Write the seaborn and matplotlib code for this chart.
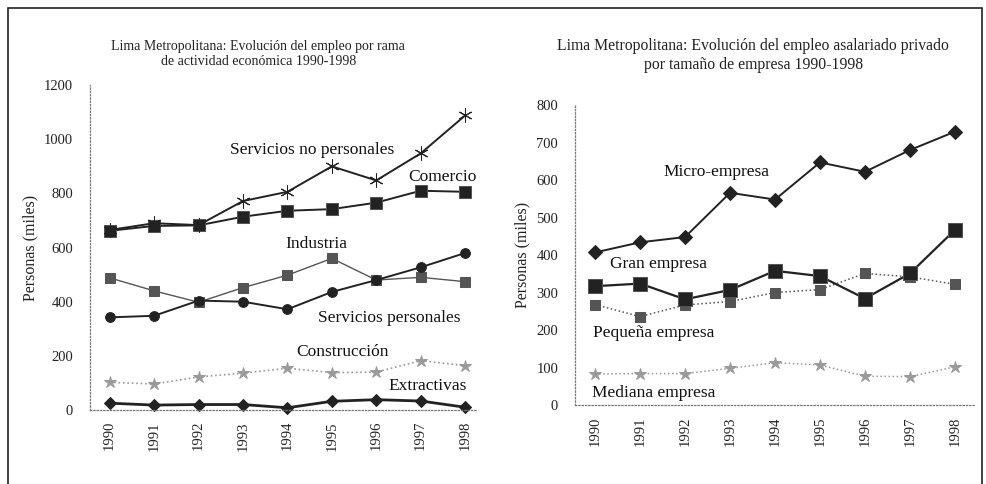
import matplotlib
matplotlib.use('Agg')
import matplotlib.pyplot as plt
import matplotlib.patches as mpatches
import seaborn as sns
import pandas as pd

# Data (thousands of persons)
years = [1990, 1991, 1992, 1993, 1994, 1995, 1996, 1997, 1998]

serv_no_pers = [665, 690, 683, 772, 806, 900, 848, 948, 1088]
comercio = [662, 680, 682, 714, 736, 742, 766, 810, 806]
industria = [342, 348, 404, 400, 372, 436, 480, 527, 580]
serv_pers = [488, 440, 398, 452, 498, 560, 480, 490, 474]
construccion = [102, 96, 122, 136, 154, 138, 140, 182, 164]
extractivas = [25, 18, 20, 20, 8, 32, 38, 33, 10]

micro = [407, 434, 448, 566, 548, 647, 622, 680, 729]
gran = [317, 324, 282, 307, 358, 344, 284, 351, 467]
pequena = [268, 236, 267, 276, 300, 308, 351, 342, 322]
mediana = [83, 84, 84, 98, 113, 107, 77, 76, 102]

left_ticks = [0, 200, 400, 600, 800, 1000, 1200]
right_ticks = [0, 100, 200, 300, 400, 500, 600, 700, 800]

sns.set_theme(style="white")
plt.rcParams['font.family'] = ['Liberation Serif', 'DejaVu Serif']

fig = plt.figure(figsize=(9.86, 4.84), dpi=100)

# scanned page frame
fig.patches.append(mpatches.Rectangle((0.008, -0.02), 0.988, 1.003, transform=fig.transFigure,
                                      fill=False, edgecolor='#222222', linewidth=1.2))

ax1 = fig.add_axes([0.091, 0.153, 0.392, 0.671])
ax2 = fig.add_axes([0.583, 0.163, 0.406, 0.62])

dark = '#222222'
mid = '#555555'
light = '#9a9a9a'
asterisk = (6, 2, 0)


def draw(ax, vals, marker, color, ls, ms, lw=1.3, mec=None):
    df = pd.DataFrame({'year': years, 'value': vals})
    sns.lineplot(data=df, x='year', y='value', ax=ax, color=color, linestyle=ls,
                 linewidth=lw, marker=marker, markersize=ms,
                 markerfacecolor=color, markeredgecolor=mec or color, clip_on=False)


# Left panel: by branch of activity
draw(ax1, serv_pers, 's', mid, '-', 7, lw=1.0)
draw(ax1, construccion, '*', light, ':', 9, lw=1.2)
draw(ax1, extractivas, 'D', dark, '-', 6, lw=2.0)
draw(ax1, industria, 'o', dark, '-', 7, lw=1.4)
draw(ax1, comercio, 's', dark, '-', 9, lw=1.4, mec='#555555')
draw(ax1, serv_no_pers, asterisk, dark, '-', 10, lw=1.4)

# Right panel: by firm size
draw(ax2, pequena, 's', mid, ':', 7, lw=1.1)
draw(ax2, mediana, '*', light, ':', 9, lw=1.1)
draw(ax2, micro, 'D', dark, '-', 7, lw=1.4)
draw(ax2, gran, 's', dark, '-', 10, lw=1.6, mec='#555555')

label_kw = dict(fontsize=12.5, color='#111111', ha='center', va='center')
ax1.text(1994.55, 960, 'Servicios no personales', **label_kw)
ax1.text(1997.5, 862, 'Comercio', **label_kw)
ax1.text(1994.65, 612, 'Industria', **label_kw)
ax1.text(1996.3, 338, 'Servicios personales', **label_kw)
ax1.text(1995.25, 215, 'Construcción', **label_kw)
ax1.text(1997.15, 88, 'Extractivas', **label_kw)

ax2.text(1992.7, 622, 'Micro-empresa', **label_kw)
ax2.text(1991.4, 375, 'Gran empresa', **label_kw)
ax2.text(1991.3, 192, 'Pequeña empresa', **label_kw)
ax2.text(1991.3, 32, 'Mediana empresa', **label_kw)

for ax, ticks, xmax in [(ax1, left_ticks, 1998.25), (ax2, right_ticks, 1998.45)]:
    ax.set_xlim(1989.55, xmax)
    ax.set_ylim(0, ticks[-1])
    ax.set_yticks(ticks)
    ax.set_yticklabels([str(t) for t in ticks], fontsize=10.5, color='#222222')
    ax.set_xticks(years)
    ax.set_xticklabels([str(y) for y in years], rotation=90, fontsize=10.5, color='#222222')
    ax.set_xlabel('')
    ax.set_ylabel('Personas (miles)', fontsize=11.5, color='#222222', labelpad=4)
    for side in ['top', 'right']:
        ax.spines[side].set_visible(False)
    for side in ['left', 'bottom']:
        ax.spines[side].set_linestyle(':')
        ax.spines[side].set_color('#777777')
        ax.spines[side].set_linewidth(0.9)
    ax.tick_params(axis='y', length=0, pad=12)
    ax.tick_params(axis='x', length=0, pad=8)
    ax.grid(False)
    ax.set_facecolor('none')

fig.text(0.262, 0.888, 'Lima Metropolitana: Evolución del empleo por rama\nde actividad económica 1990-1998',
         ha='center', va='center', fontsize=10, color='#222222', linespacing=1.25)
fig.text(0.764, 0.886, 'Lima Metropolitana: Evolución del empleo asalariado privado\npor tamaño de empresa 1990-1998',
         ha='center', va='center', fontsize=11.3, color='#222222', linespacing=1.25)

fig.savefig('out.png', dpi=100, facecolor='white')
